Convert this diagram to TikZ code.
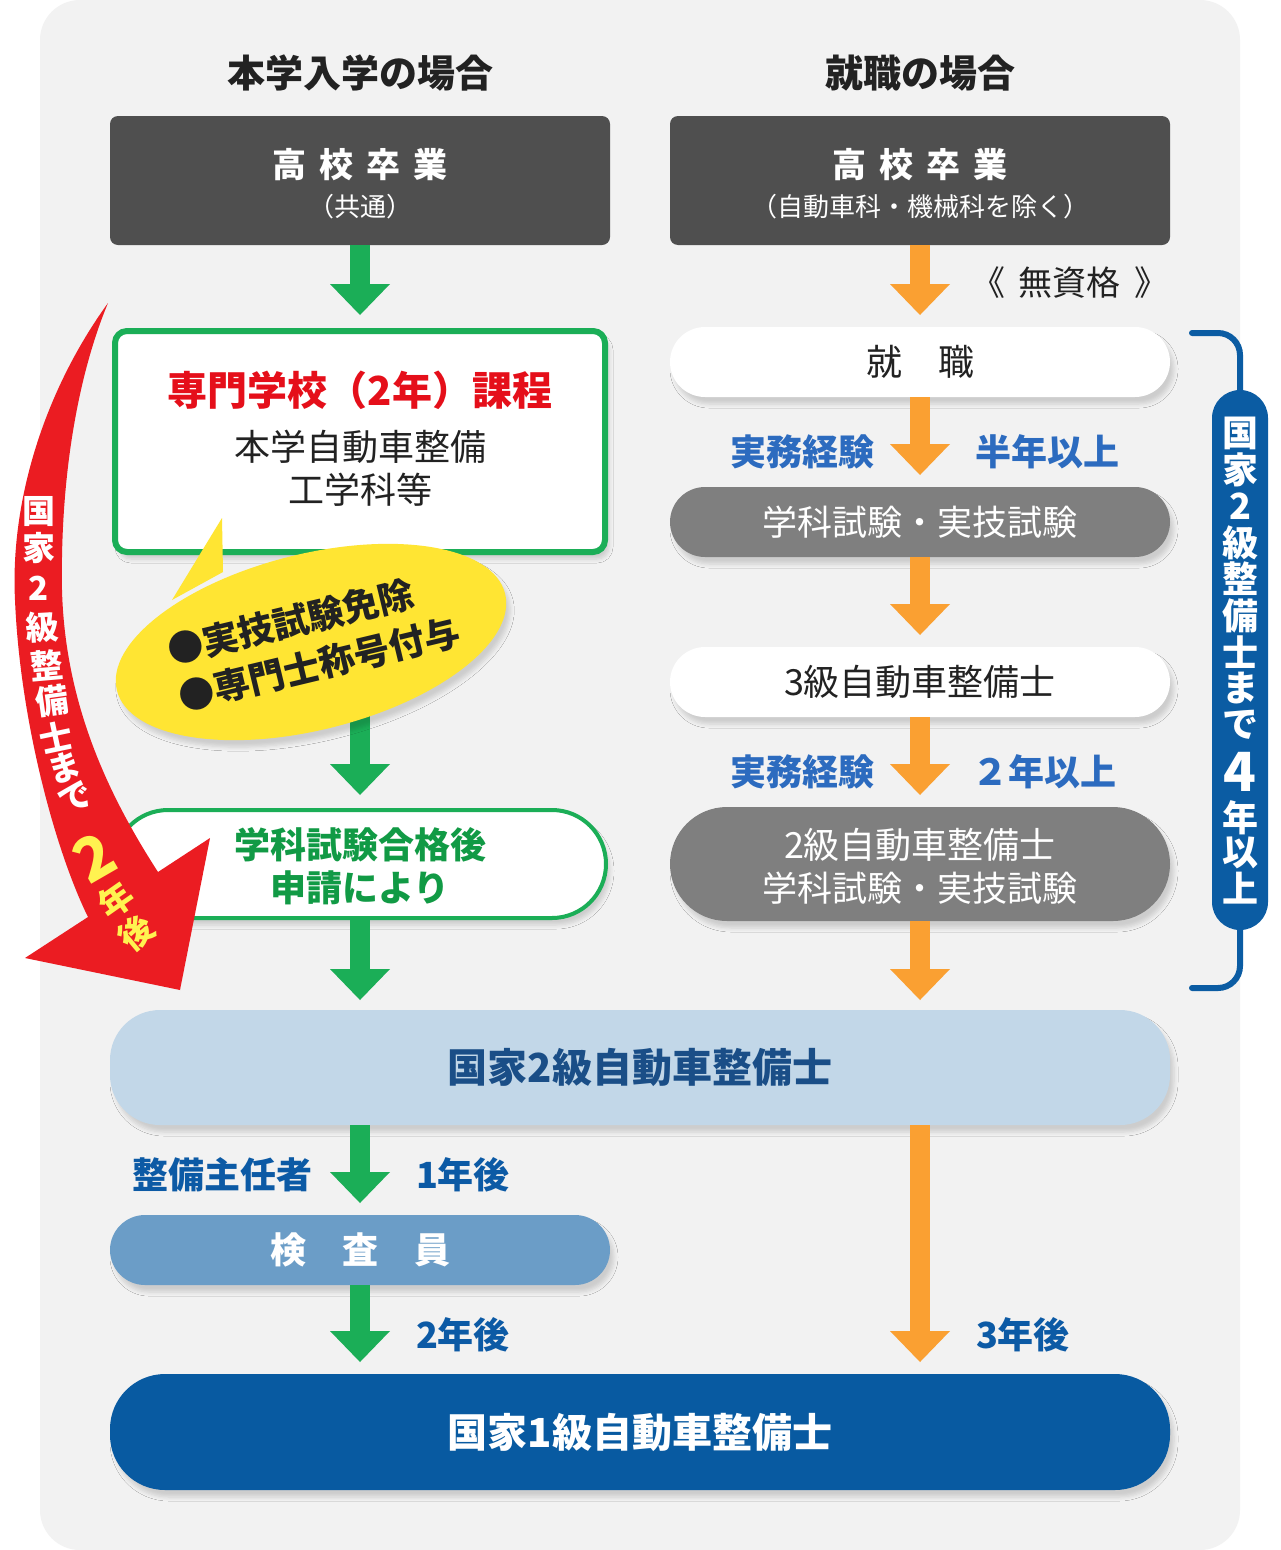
\documentclass[tikz,border=0pt]{standalone}
\usepackage{fontspec}
\setmainfont{Noto Sans CJK JP}
\usetikzlibrary{arrows.meta,shapes.geometric,shadows.blur}
\newcommand\myfs[1]{\fontsize{#1}{#1}\selectfont}
\definecolor{panel}{HTML}{F2F2F2}
\definecolor{dbox}{HTML}{4F4F4F}
\definecolor{gbox}{HTML}{7F7F7F}
\definecolor{grn}{HTML}{1BAE57}
\definecolor{grntxt}{HTML}{119A45}
\definecolor{org}{HTML}{FAA032}
\definecolor{redA}{HTML}{EB1C22}
\definecolor{redT}{HTML}{E50F1A}
\definecolor{yel}{HTML}{FFE533}
\definecolor{yelT}{HTML}{FFF250}
\definecolor{bluT}{HTML}{2C6BBF}
\definecolor{navT}{HTML}{0C5AA5}
\definecolor{brk}{HTML}{0B5CA3}
\definecolor{lblue}{HTML}{C2D7E8}
\definecolor{lbluT}{HTML}{1A4E87}
\definecolor{kensa}{HTML}{6B9DC7}
\definecolor{dblue}{HTML}{085AA1}
\definecolor{txt}{HTML}{222222}
\begin{document}
\begin{tikzpicture}[x=1pt,y=-1pt,
  hdr/.style={font=\myfs{38}\bfseries, text=txt, inner sep=0},
  shp/.style={inner sep=0, outer sep=0},
  sh/.style={blur shadow={shadow xshift=4pt, shadow yshift=-7pt, shadow blur radius=4pt, shadow opacity=15}},
  darkbox/.style={shp, fill=dbox, rounded corners=8pt, minimum width=500pt, minimum height=129pt},
  stad/.style={shp, sh, rounded corners=35pt, minimum width=500pt, minimum height=70pt},
  whitestad/.style={stad, fill=white, text=txt},
  graystad/.style={stad, fill=gbox, text=white},
  tx/.style={inner sep=0},
  lbl/.style={tx, font=\myfs{36}\bfseries},
  arr/.style={line width=20pt, -{Triangle[width=60pt,length=31pt,line width=0pt]}},
  garr/.style={arr, draw=grn},
  oarr/.style={arr, draw=org},
]
\useasboundingbox (0,0) rectangle (1280,1550);
\fill[white] (0,0) rectangle (1280,1550);
\fill[panel, rounded corners=40pt] (40,0) rectangle (1240,1550);

% headers
\node[hdr] (hl) at (360,73) {本学入学の場合};
\node[hdr] (hr) at (920,73) {就職の場合};

% top boxes
\node[darkbox] (b1) at (360,180.5) {};
\node[darkbox] (b2) at (920,180.5) {};
\node[tx, font=\myfs{34}\bfseries, text=white] (b1t) at (360,165) {高\hspace{13pt}校\hspace{13pt}卒\hspace{13pt}業};
\node[tx, font=\myfs{26}, text=white] (b1s) at (360,207) {（共通）};
\node[tx, font=\myfs{34}\bfseries, text=white] (b2t) at (920,165) {高\hspace{13pt}校\hspace{13pt}卒\hspace{13pt}業};
\node[tx, font=\myfs{26}, text=white] (b2s) at (920,207) {（自動車科・機械科を除く）};

% left column
\node[shp, sh, draw=grn, line width=6pt, fill=white, rounded corners=12pt, minimum width=490pt, minimum height=221pt] (g1) at (360,441.5) {};
\node[tx, font=\myfs{40}\bfseries, text=redT] (g1a) at (360,390) {専門学校（2年）課程};
\node[tx, font=\myfs{36}, text=txt] (g1b) at (360,447) {本学自動車整備};
\node[tx, font=\myfs{36}, text=txt] (g1c) at (360,490) {工学科等};

\node[shp, sh, draw=grn, line width=4pt, fill=white, rounded corners=54pt, minimum width=492pt, minimum height=108pt] (g2) at (360,864) {};
\node[tx, font=\myfs{36}\bfseries, text=grntxt] (g2a) at (360,845) {学科試験合格後};
\node[tx, font=\myfs{36}\bfseries, text=grntxt] (g2b) at (360,888) {申請により};

% right column
\node[whitestad, font=\myfs{36}] (r1) at (920,362) {就\hspace{36pt}職};
\node[graystad, font=\myfs{35}] (r2) at (920,522) {学科試験・実技試験};
\node[whitestad, font=\myfs{36}] (r3) at (920,682) {3級自動車整備士};
\node[graystad, rounded corners=57pt, minimum height=114pt] (r4) at (920,864) {};
\node[tx, font=\myfs{36}, text=white] (r4a) at (920,845) {2級自動車整備士};
\node[tx, font=\myfs{35}, text=white] (r4b) at (920,888) {学科試験・実技試験};

% bottom boxes
\node[shp, sh, fill=lblue, rounded corners=50pt, minimum width=1060pt, minimum height=115pt, text=lbluT, font=\myfs{40}\bfseries] (L1) at (640,1067.5) {国家2級自動車整備士};
\node[stad, fill=kensa, text=white, font=\myfs{36}\bfseries] (kensa) at (360,1250) {検\hspace{36pt}査\hspace{36pt}員};
\node[shp, sh, fill=dblue, rounded corners=55pt, minimum width=1060pt, minimum height=116pt, text=white, font=\myfs{40}\bfseries] (L2) at (640,1432) {国家1級自動車整備士};

\coordinate (L1gt) at (g2.south |- L1.north);
\coordinate (L1gb) at (kensa.north |- L1.south);
\coordinate (L2gt) at (kensa.south |- L2.north);
\coordinate (L1ot) at (r4.south |- L1.north);
\coordinate (L1ob) at (r4.south |- L1.south);
\coordinate (L2ot) at (r4.south |- L2.north);

% arrows
\draw[garr] (b1.south) -- ([yshift=16pt]g1.north);
\draw[garr] (g1.south) -- ([yshift=15pt]g2.north);
\draw[garr] (g2.south) -- ([yshift=10pt]L1gt);
\draw[garr] (L1gb) -- ([yshift=12pt]kensa.north);
\draw[garr] (kensa.south) -- ([yshift=12pt]L2gt);
\draw[oarr] (b2.south) -- ([yshift=12pt]r1.north);
\draw[oarr] (r1.south) -- ([yshift=12pt]r2.north);
\draw[oarr] (r2.south) -- ([yshift=12pt]r3.north);
\draw[oarr] (r3.south) -- ([yshift=12pt]r4.north);
\draw[oarr] (r4.south) -- ([yshift=10pt]L1ot);
\draw[oarr] (L1ob) -- ([yshift=12pt]L2ot);

% labels
\node[tx, font=\myfs{34}, text=txt] (mu) at (1070,283) {《\hspace{14pt}無資格\hspace{14pt}》};
\node[lbl, text=bluT] (jm1) at (802,452) {実務経験};
\node[lbl, text=bluT] (hn) at (1047,452) {半年以上};
\node[lbl, text=bluT] (jm2) at (802,772) {実務経験};
\node[lbl, text=bluT] (ny) at (1044,772) {２年以上};
\node[lbl, text=navT] (sb) at (222,1175) {整備主任者};
\node[lbl, text=navT] (y1) at (463,1175) {1年後};
\node[lbl, text=navT] (y2) at (463,1335) {2年後};
\node[lbl, text=navT] (y3) at (1023,1335) {3年後};

% speech bubble
\node[ellipse, shp, sh, fill=yel, minimum width=400pt, minimum height=176pt, rotate=14] (bub) at (311,642) {};
\fill[yel] (222,518) -- (172,600) -- (223,572) -- cycle;
\node[tx, font=\fontsize{36}{48}\selectfont\bfseries, text=txt, align=left, rotate=13.5] (bubt) at (314,641) {●実技試験免除\\●専門士称号付与};

% red curved arrow
\fill[redA] (108,303) .. controls (45,390) and (10,500) .. (15,600)
  .. controls (20,720) and (55,850) .. (88,917) -- (25,958) -- (180,990) -- (210,838) -- (158,872)
  .. controls (105,790) and (65,700) .. (62,590) .. controls (60,470) and (80,370) .. (108,303) -- cycle;
\foreach \ch/\x/\y/\r [count=\i] in {国/39/512/0, 家/39/548/0, 2/39/588/0, 級/42/627/3, 整/47/665/5, 備/52/701/8, 士/56/737/12, ま/64/768/18, で/76/798/25}
  {\node[tx, font=\myfs{33}\bfseries, text=white, rotate=\r] (rt\i) at (\x,\y) {\ch};}
\node[tx, font=\myfs{60}\bfseries, text=yelT, rotate=30] (rt10) at (94,857) {2};
\node[tx, font=\myfs{34}\bfseries, text=yelT, rotate=35] (rt11) at (116,900) {年};
\node[tx, font=\myfs{34}\bfseries, text=yelT, rotate=40] (rt12) at (136,933) {後};

% right bracket
\node[shp, fill=brk, rounded corners=28pt, minimum width=56pt, minimum height=540pt] (pill) at (1240,660) {};
\coordinate (bt) at (1192,333);
\coordinate (bb) at (1192,988);
\draw[brk, line width=6pt, line cap=round, rounded corners=22pt] (bt) -| (pill.north);
\draw[brk, line width=6pt, line cap=round, rounded corners=22pt] (pill.south) |- (bb);
\foreach \ch [count=\i] in {国,家,2,級,整,備,士,ま,で}
  {\node[tx, font=\myfs{36}\bfseries, text=white] (pt\i) at (1240,{433+36.5*(\i-1)}) {\ch};}
\node[tx, font=\myfs{54}\bfseries, text=white] (pt10) at (1240,772) {4};
\node[tx, font=\myfs{36}\bfseries, text=white] (pt11) at (1240,818) {年};
\node[tx, font=\myfs{36}\bfseries, text=white] (pt12) at (1240,853) {以};
\node[tx, font=\myfs{36}\bfseries, text=white] (pt13) at (1240,888) {上};
\end{tikzpicture}
\end{document}
